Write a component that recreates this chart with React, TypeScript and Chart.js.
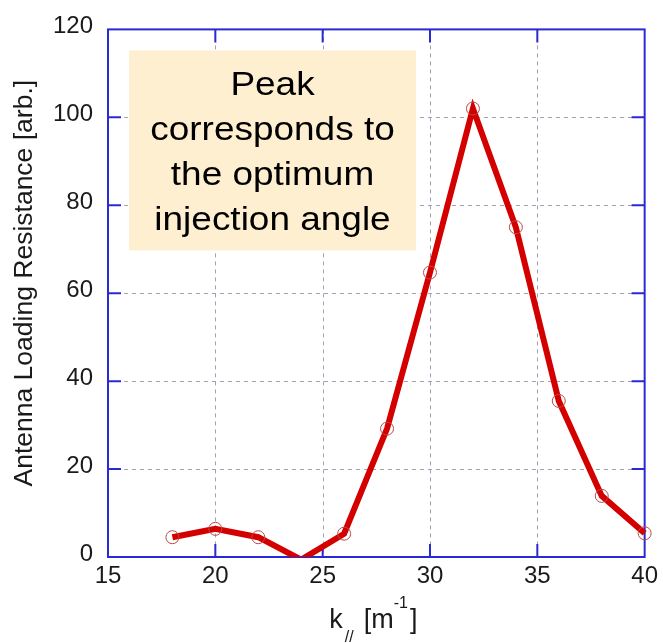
import React, { useEffect, useRef } from 'react';
import { Chart, registerables } from 'chart.js';

Chart.register(...registerables);

// ---- data ----
const kValues = [18, 20, 22, 24, 26, 28, 30, 32, 34, 36, 38, 40];
const resistance = [4.5, 6.4, 4.5, -0.6, 5.3, 29.2, 64.7, 102, 75, 35.5, 13.9, 5.4];
const xTicks = [15, 20, 25, 30, 35, 40];
const yTicks = [0, 20, 40, 60, 80, 100, 120];
const yTitle = 'Antenna Loading Resistance [arb.]';
const noteLines = ['Peak', 'corresponds to', 'the optimum', 'injection angle'];

const FONT = '"Liberation Sans", Arial, Helvetica, sans-serif';
const AXIS_BLUE = '#2a2ad4';
const GRID = '#a2a2b6';
const TEXT = '#1a1a1a';

const decor = {
  id: 'decor',
  beforeDatasetsDraw(chart: any) {
    const { ctx, chartArea: a, scales } = chart;
    const x = scales.x;
    const y = scales.y;
    ctx.save();
    // dashed grid
    ctx.lineWidth = 1;
    ctx.strokeStyle = GRID;
    ctx.setLineDash([4, 4]);
    xTicks.slice(1, -1).forEach((v) => {
      const px = Math.round(x.getPixelForValue(v)) + 0.5;
      ctx.beginPath();
      ctx.moveTo(px, a.top);
      ctx.lineTo(px, a.bottom);
      ctx.stroke();
    });
    yTicks.slice(1, -1).forEach((v) => {
      const py = Math.round(y.getPixelForValue(v)) + 0.5;
      ctx.beginPath();
      ctx.moveTo(a.left, py);
      ctx.lineTo(a.right, py);
      ctx.stroke();
    });
    ctx.setLineDash([]);

    // note box
    const bx = a.left + 21;
    const by = a.top + 21;
    const bw = 287;
    const bh = 200;
    ctx.fillStyle = '#fdefcf';
    ctx.fillRect(bx, by, bw, bh);
    ctx.fillStyle = '#000';
    ctx.font = `33px ${FONT}`;
    ctx.textAlign = 'center';
    ctx.textBaseline = 'middle';
    noteLines.forEach((t, i) => {
      ctx.save();
      ctx.translate(bx + bw / 2, by + 36 + i * 45);
      ctx.scale(1.12, 1);
      ctx.fillText(t, 0, 0);
      ctx.restore();
    });

    // frame
    ctx.strokeStyle = AXIS_BLUE;
    ctx.lineWidth = 2;
    ctx.strokeRect(a.left, a.top, a.right - a.left, a.bottom - a.top);
    // inward ticks
    const TL = 13;
    xTicks.slice(1, -1).forEach((v) => {
      const px = x.getPixelForValue(v);
      ctx.beginPath();
      ctx.moveTo(px, a.bottom);
      ctx.lineTo(px, a.bottom - TL);
      ctx.moveTo(px, a.top);
      ctx.lineTo(px, a.top + TL);
      ctx.stroke();
    });
    yTicks.slice(1, -1).forEach((v) => {
      const py = y.getPixelForValue(v);
      ctx.beginPath();
      ctx.moveTo(a.left, py);
      ctx.lineTo(a.left + TL, py);
      ctx.moveTo(a.right, py);
      ctx.lineTo(a.right - TL, py);
      ctx.stroke();
    });
    ctx.restore();
  },
  afterDraw(chart: any) {
    const { ctx, chartArea: a } = chart;
    ctx.save();
    ctx.fillStyle = TEXT;
    // y title
    ctx.font = `26.5px ${FONT}`;
    ctx.textAlign = 'center';
    ctx.textBaseline = 'alphabetic';
    ctx.save();
    ctx.translate(32, (a.top + a.bottom) / 2 - 10);
    ctx.rotate(-Math.PI / 2);
    ctx.fillText(yTitle, 0, 0);
    ctx.restore();

    // x title: k_{//} [m^{-1}]
    const runs = [
      { t: 'k', s: 27, dy: 0, gap: 2 },
      { t: '//', s: 16, dy: 14, gap: 10 },
      { t: '[m', s: 27, dy: 0, gap: 0 },
      { t: '-1', s: 16, dy: -20, gap: 2 },
      { t: ']', s: 27, dy: 0, gap: 0 },
    ];
    let total = 0;
    runs.forEach((r) => {
      ctx.font = `${r.s}px ${FONT}`;
      total += ctx.measureText(r.t).width + r.gap;
    });
    let cx = (a.left + a.right) / 2 - total / 2 - 3;
    const base = 628;
    ctx.textAlign = 'left';
    runs.forEach((r) => {
      ctx.font = `${r.s}px ${FONT}`;
      ctx.fillText(r.t, cx, base + r.dy);
      cx += ctx.measureText(r.t).width + r.gap;
    });
    ctx.restore();
  },
};

export default function App() {
  const ref = useRef<HTMLCanvasElement>(null);
  useEffect(() => {
    document.body.style.margin = '0';
    const canvas = ref.current;
    if (!canvas) return;
    const chart = new Chart(canvas, {
      type: 'line',
      data: {
        datasets: [
          {
            data: kValues.map((k, i) => ({ x: k, y: resistance[i] })),
            borderColor: '#d40000',
            borderWidth: 6,
            fill: false,
            tension: 0,
            pointRadius: (c: any) => (c.raw && c.raw.y < 0 ? 0 : 6.5),
            pointHoverRadius: 6.5,
            pointBorderColor: '#b84a4a',
            pointBorderWidth: 1,
            pointBackgroundColor: 'rgba(0,0,0,0)',
            clip: { left: 14, right: 14, top: 14, bottom: 0 } as any,
          },
        ],
      },
      options: {
        responsive: false,
        animation: false,
        devicePixelRatio: 1,
        layout: { padding: { top: 21, right: 17, left: 0, bottom: 0 }, autoPadding: false } as any,
        plugins: { legend: { display: false }, tooltip: { enabled: false }, title: { display: false } },
        scales: {
          x: {
            type: 'linear',
            min: 15,
            max: 40,
            grid: { display: false, drawTicks: false },
            border: { display: false },
            afterBuildTicks: (s: any) => {
              s.ticks = xTicks.map((v) => ({ value: v }));
            },
            afterFit: (s: any) => {
              s.height = 86;
            },
            ticks: {
              font: { family: FONT, size: 24 },
              color: TEXT,
              padding: 5,
              maxRotation: 0,
              autoSkip: false,
            },
          },
          y: {
            type: 'linear',
            min: 0,
            max: 120,
            grid: { display: false, drawTicks: false },
            border: { display: false },
            afterBuildTicks: (s: any) => {
              s.ticks = yTicks.map((v) => ({ value: v }));
            },
            afterFit: (s: any) => {
              s.width = 108;
            },
            ticks: {
              font: { family: FONT, size: 24 },
              color: TEXT,
              padding: 15,
              labelOffset: -3,
              autoSkip: false,
            },
          },
        },
      },
      plugins: [decor],
    });
    return () => chart.destroy();
  }, []);
  return (
    <div style={{ position: 'absolute', left: 0, top: 0, width: 663, height: 643 }}>
      <canvas ref={ref} width={663} height={643} style={{ display: 'block' }} />
    </div>
  );
}
